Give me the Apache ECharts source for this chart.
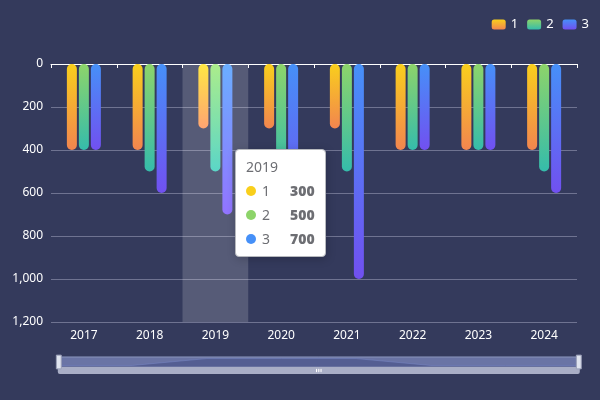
<!DOCTYPE html>
<html>
<head>
<meta charset="utf-8">
<script src="https://cdn.jsdelivr.net/npm/echarts@6/dist/echarts.min.js"></script>
<style>html,body{margin:0;padding:0;background:#343a5c;}#main{width:600px;height:400px;}</style>
</head>
<body>
<div id="main"></div>
<script>
var categories = ['2017','2018','2019','2020','2021','2022','2023','2024'];
var seriesNames = ['1','2','3'];
var values1 = [400, 400, 300, 300, 300, 400, 400, 400];
var values2 = [400, 500, 500, 500, 500, 400, 400, 500];
var values3 = [400, 600, 700, 700, 1000, 400, 400, 600];
var yTicks = [0, 200, 400, 600, 800, 1000, 1200];

var chart = echarts.init(document.getElementById('main'));
function grad(c0, c1) {
  return new echarts.graphic.LinearGradient(0, 0, 0, 1, [
    {offset: 0, color: c0}, {offset: 1, color: c1}
  ]);
}
var colors = [
  grad('#f9cf1c', '#f2854f'),
  grad('#8dd46a', '#35bcab'),
  grad('#4690f8', '#7150f0')
];
var allValues = [values1, values2, values3];
var series = seriesNames.map(function (n, i) {
  return {
    name: n,
    type: 'bar',
    barWidth: 10,
    barGap: '20%',
    data: allValues[i],
    itemStyle: {color: colors[i], borderRadius: 5}
  };
});
chart.setOption({
  backgroundColor: '#343a5c',
  animation: false,
  textStyle: {fontFamily: 'Noto Sans'},
  legend: {
    right: 6, top: 13, itemWidth: 14, itemHeight: 10, itemGap: 9,
    textStyle: {color: '#ffffff', fontSize: 13},
    data: seriesNames
  },
  tooltip: {
    trigger: 'axis',
    axisPointer: {type: 'shadow', shadowStyle: {color: 'rgba(255,255,255,0.17)'}},
    position: function () { return [235, 149]; }
  },
  grid: {left: 51, right: 23, top: 64, bottom: 78, containLabel: false},
  xAxis: [{
    type: 'category',
    data: categories,
    position: 'bottom',
    axisLine: {show: false, onZero: false},
    axisTick: {show: false},
    axisLabel: {color: '#ffffff', fontSize: 12, margin: 8}
  }, {
    type: 'category',
    data: categories,
    position: 'top',
    axisLine: {show: true, lineStyle: {color: '#ffffff'}},
    axisTick: {show: true, inside: true, length: 4, lineStyle: {color: '#ffffff'}},
    axisLabel: {show: false},
    axisPointer: {show: false}
  }],
  yAxis: {
    type: 'value',
    inverse: true,
    min: yTicks[0],
    max: yTicks[yTicks.length - 1],
    interval: 200,
    axisLine: {show: false},
    axisTick: {show: false},
    axisLabel: {color: '#ffffff', fontSize: 12, margin: 8},
    splitLine: {lineStyle: {color: '#6f7391'}}
  },
  dataZoom: [{
    type: 'slider',
    xAxisIndex: [0, 1],
    start: 0, end: 100,
    left: 55, right: 23, bottom: 33, height: 11,
    showDetail: false,
    backgroundColor: 'rgba(90,100,150,0.3)',
    fillerColor: 'rgba(110,125,190,0.45)',
    borderColor: 'rgba(200,205,225,0.35)',
    handleIcon: 'path://M0,0H10V28H0Z',
    handleSize: '125%',
    handleStyle: {color: '#dfe4ef', borderColor: '#9aa0b8', borderWidth: 1},
    moveHandleSize: 7,
    moveHandleStyle: {color: '#a9aec6', opacity: 1},
    emphasis: {moveHandleStyle: {color: '#a9aec6'}},
    dataBackground: {lineStyle: {color: '#7088d0', opacity: 0.8}, areaStyle: {color: 'rgba(90,105,165,0.4)'}}
  }],
  series: series
});
setTimeout(function () {
  chart.dispatchAction({type: 'showTip', seriesIndex: 0, dataIndex: 2});
}, 50);
</script>
</body>
</html>
